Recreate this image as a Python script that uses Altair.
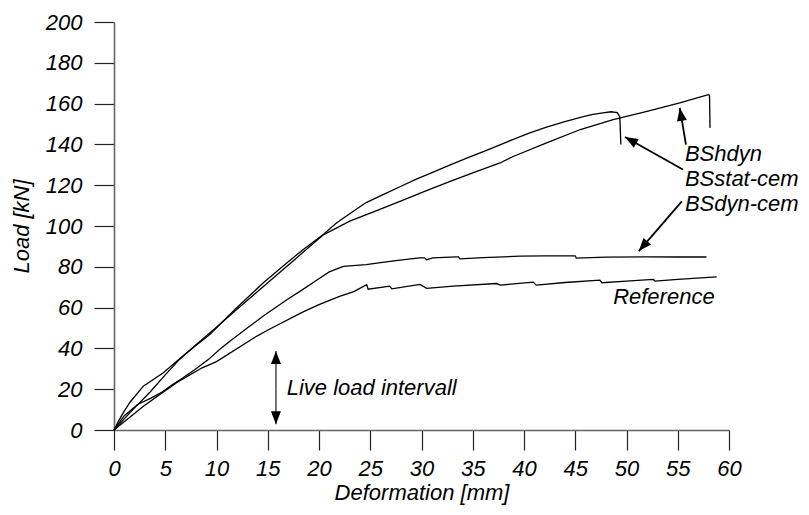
import math
import altair as alt
import pandas as pd

# ---------------- data ----------------
series_names = ["BSstat-cem", "BShdyn", "BSdyn-cem", "Reference"]

bsstat_x = [0, 0.45, 0.91, 1.56, 2.86, 4.81, 7.09, 9.37, 11.97, 14.57, 17.0, 18.47, 19.77, 20.42,
            21.7, 23.0, 24.6, 26.3, 28.0, 29.5, 31.2, 32.8, 34.6, 36.4, 38.96, 40.5, 42.2, 43.9,
            45.5, 46.6, 47.7, 48.5, 49.1, 49.35, 49.45]
bsstat_y = [0, 4.5, 8.5, 13.6, 21.5, 28.1, 37.9, 46.9, 59.9, 72.2, 82.5, 88.5, 93.4, 95.8,
            101.5, 106.0, 111.5, 115.5, 119.5, 123.0, 126.5, 130.0, 133.6, 137.2, 142.5, 145.5, 148.5, 151.0,
            153.3, 154.6, 155.5, 156.0, 155.6, 153.5, 140.0]

bshdyn_x = [0, 1.56, 3.5, 5.0, 6.4, 8.0, 9.4, 12.0, 14.6, 17.5, 20.4, 21.5, 23.0, 25.5, 27.9,
            30.3, 32.8, 35.2, 37.66, 39.0, 42.2, 45.5, 48.7, 52.0, 55.2, 57.4, 57.99, 58.1, 58.15]
bshdyn_y = [0, 8.5, 18.5, 27.0, 34.6, 41.8, 47.8, 59.2, 70.5, 83.0, 95.6, 98.5, 102.4, 107.3, 112.1,
            117.0, 121.9, 126.4, 130.9, 134.2, 140.7, 147.3, 152.2, 156.2, 160.3, 163.5, 164.4, 164.0, 148.1]

bsdyn_x = [0, 1.0, 2.3, 3.6, 4.6, 5.5, 6.7, 7.9, 9.2, 10.3, 11.3, 13.0, 14.6, 16.9, 18.4, 19.8,
           21.0, 22.0, 22.4, 23.3, 24.6, 26.0, 27.5, 29.8, 30.3, 30.5, 31.1, 33.4, 33.6, 33.75,
           36.0, 39.6, 42.0, 45.0, 45.1, 48.0, 52.0, 55.0, 57.8]
bsdyn_y = [0, 7.0, 12.5, 15.6, 18.3, 21.5, 25.5, 29.7, 34.5, 39.5, 43.5, 50.0, 56.0, 64.0, 68.8, 73.5,
           77.5, 79.5, 80.2, 80.6, 81.1, 82.0, 83.0, 84.4, 84.4, 83.5, 84.4, 84.9, 84.9, 83.9,
           84.5, 85.2, 85.4, 85.4, 84.3, 84.7, 84.9, 84.8, 84.8]

ref_x = [0, 2.9, 6.1, 8.6, 10.0, 13.6, 15.2, 18.5, 20.0, 22.0, 23.4, 24.65, 24.8, 26.9, 27.1,
         29.85, 30.5, 33.1, 37.3, 37.7, 40.9, 41.2, 44.0, 47.4, 47.6, 50.0, 52.6, 52.8, 55.0, 58.8]
ref_y = [0, 11.8, 23.2, 30.5, 33.5, 45.0, 49.5, 58.0, 61.5, 65.5, 67.8, 71.2, 69.0, 70.5, 69.2,
         71.4, 69.4, 70.5, 71.8, 71.0, 72.5, 71.0, 72.3, 73.5, 72.2, 73.0, 73.8, 73.0, 73.8, 75.1]

x_ticks = list(range(0, 61, 5))
y_ticks = list(range(0, 201, 20))

# annotation labels (text, x, y at baseline)
label_text = ["BShdyn", "BSstat-cem", "BSdyn-cem", "Reference", "Live load intervall"]
label_x = [55.7, 55.7, 55.7, 58.6, 16.85]
label_y = [131.8, 119.6, 107.4, 61.6, 17.0]
label_align = ["left", "left", "left", "right", "left"]

# arrows: tail (x, y) -> tip (x2, y2)
arrow_x = [55.8, 55.5, 55.4, 15.8, 15.8]
arrow_y = [139.9, 127.7, 112.1, 20.0, 20.0]
arrow_x2 = [55.2, 49.85, 51.2, 15.8, 15.8]
arrow_y2 = [157.9, 143.6, 87.7, 38.7, 2.8]
arrow_color = ["black", "black", "black", "#666666", "#666666"]

# ---------------- chart ----------------
W, H = 615, 408
PX_X = W / 60.0
PX_Y = H / 200.0
FONT = "Liberation Sans"

rows = []
for name, xs, ys in zip(series_names, [bsstat_x, bshdyn_x, bsdyn_x, ref_x],
                        [bsstat_y, bshdyn_y, bsdyn_y, ref_y]):
    for i, (a, b) in enumerate(zip(xs, ys)):
        rows.append({"series": name, "i": i, "x": a, "y": b})
curves = pd.DataFrame(rows)

labels = pd.DataFrame({"text": label_text, "x": label_x, "y": label_y, "align": label_align})

arrows = pd.DataFrame({"x": arrow_x, "y": arrow_y, "x2": arrow_x2, "y2": arrow_y2,
                       "color": arrow_color})
arrows["angle"] = [
    math.degrees(math.atan2((b2 - b1) * PX_X, (c2 - c1) * PX_Y)) % 360
    for b1, b2, c1, c2 in zip(arrow_x, arrow_x2, arrow_y, arrow_y2)
]

x_scale = alt.Scale(domain=[0, 60], nice=False, zero=False)
y_scale = alt.Scale(domain=[0, 200], nice=False)

x_axis = alt.Axis(values=x_ticks, title="Deformation [mm]", tickSize=20, labelPadding=8,
                  titlePadding=3, grid=False, labelFlush=False, labelOverlap=False,
                  domainColor="#666666", domainWidth=1.6, tickColor="#222222", tickWidth=1.2)
y_axis = alt.Axis(values=y_ticks, title="Load [kN]", tickSize=20, labelPadding=12,
                  titlePadding=12, grid=False, labelFlush=False, labelOverlap=False,
                  domainColor="#666666", domainWidth=1.6, tickColor="#222222", tickWidth=1.2)

lines = alt.Chart(curves).mark_line(color="black", strokeWidth=1.3).encode(
    x=alt.X("x:Q", scale=x_scale, axis=x_axis),
    y=alt.Y("y:Q", scale=y_scale, axis=y_axis),
    detail="series:N",
    order="i:Q",
)

shafts = alt.Chart(arrows).mark_rule(strokeWidth=1.8).encode(
    x=alt.X("x:Q", scale=x_scale),
    y=alt.Y("y:Q", scale=y_scale),
    x2="x2:Q",
    y2="y2:Q",
    color=alt.Color("color:N", scale=None),
)

heads = alt.Chart(arrows).mark_point(
    shape="M0,0L1,2.6L-1,2.6Z", filled=True, size=100, color="black", opacity=1
).encode(
    x=alt.X("x2:Q", scale=x_scale),
    y=alt.Y("y2:Q", scale=y_scale),
    angle=alt.Angle("angle:Q", scale=None),
)

texts_left = alt.Chart(labels[labels["align"] == "left"]).mark_text(
    align="left", baseline="alphabetic", font=FONT, fontSize=22, fontStyle="italic", color="black"
).encode(x=alt.X("x:Q", scale=x_scale), y=alt.Y("y:Q", scale=y_scale), text="text:N")

texts_right = alt.Chart(labels[labels["align"] == "right"]).mark_text(
    align="right", baseline="alphabetic", font=FONT, fontSize=22, fontStyle="italic", color="black"
).encode(x=alt.X("x:Q", scale=x_scale), y=alt.Y("y:Q", scale=y_scale), text="text:N")

chart = alt.layer(lines, shafts, heads, texts_left, texts_right).properties(
    width=W, height=H,
    autosize="none",
    padding={"left": 106, "top": 14, "right": 72, "bottom": 80},
).configure_view(stroke=None).configure_axis(
    labelFont=FONT, labelFontSize=22, labelFontStyle="italic", labelColor="black",
    titleFont=FONT, titleFontSize=22, titleFontStyle="italic", titleFontWeight="normal",
    titleColor="black",
)

chart.save("out.html", embed_options={"renderer": "svg", "actions": False})
